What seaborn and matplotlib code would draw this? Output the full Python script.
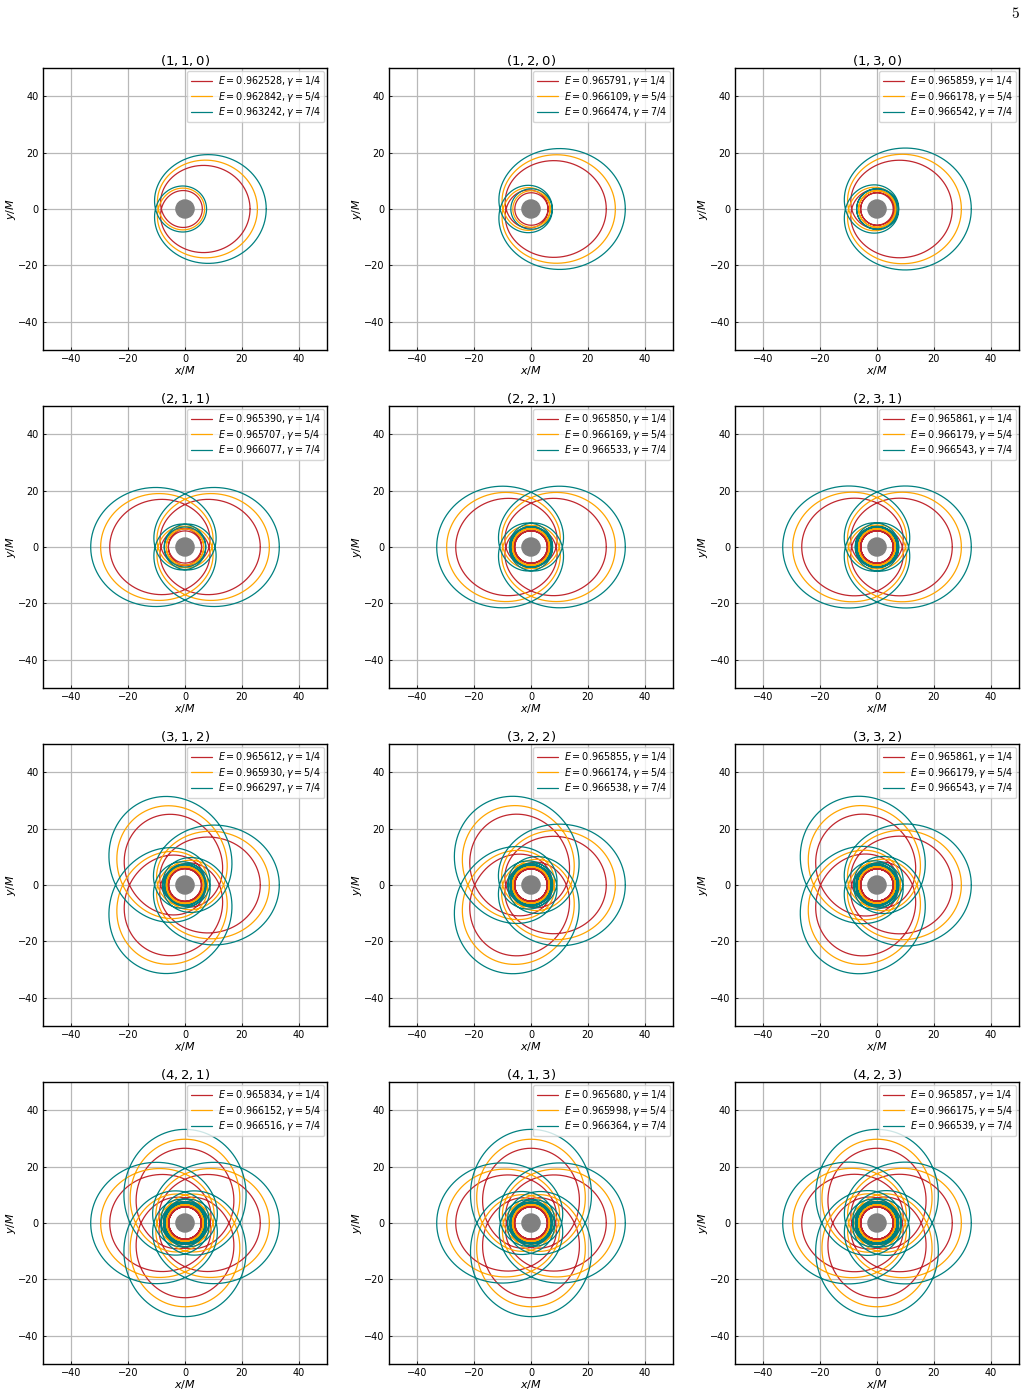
import numpy as np
import matplotlib
matplotlib.use("Agg")
import matplotlib.pyplot as plt
import seaborn as sns

# --- DATA ---
orbit_types = [(1, 1, 0), (1, 2, 0), (1, 3, 0),
               (2, 1, 1), (2, 2, 1), (2, 3, 1),
               (3, 1, 2), (3, 2, 2), (3, 3, 2),
               (4, 2, 1), (4, 1, 3), (4, 2, 3)]
gamma_labels = ["1/4", "5/4", "7/4"]
energies = [
    ["0.962528", "0.962842", "0.963242"],
    ["0.965791", "0.966109", "0.966474"],
    ["0.965859", "0.966178", "0.966542"],
    ["0.965390", "0.965707", "0.966077"],
    ["0.965850", "0.966169", "0.966533"],
    ["0.965861", "0.966179", "0.966543"],
    ["0.965612", "0.965930", "0.966297"],
    ["0.965855", "0.966174", "0.966538"],
    ["0.965861", "0.966179", "0.966543"],
    ["0.965834", "0.966152", "0.966516"],
    ["0.965680", "0.965998", "0.966364"],
    ["0.965857", "0.966175", "0.966539"],
]
# apoapsis / periapsis distances (in M)
apoapsis = [[22.9, 25.5, 28.6]] + [[26.5, 29.7, 33.2]] * 11
periapsis = [[6.1, 6.9, 7.6]] + [[5.7, 6.4, 7.1]] * 11
core_radius = 3.2

colors = ["#c0262d", "orange", "teal"]


# --- GEODESIC HELPERS (Schwarzschild-like precession) ---
def agm(a, b):
    for _ in range(60):
        a, b = 0.5 * (a + b), np.sqrt(a * b)
    return a


def precession(p, e):
    k2 = 4 * e / (p - 6 + 2 * e)
    K = np.pi / (2 * agm(1.0, np.sqrt(max(1 - k2, 0.0))))
    return 4 * np.sqrt(p / (p - 6 + 2 * e)) * K


def orbit(z, w, v, r_a, r_p, n=4000):
    e = (r_a - r_p) / (r_a + r_p)
    P = 2 * r_a * r_p / (r_a + r_p)
    target = 2 * np.pi * (1 + w + v / z)
    lo, hi = 1e-3, P / (6 + 2 * e)
    for _ in range(90):
        m = 0.5 * (lo + hi)
        if precession(P / m, e) < target:
            lo = m
        else:
            hi = m
    p = P / m
    chi = np.linspace(np.pi, np.pi + 2 * np.pi * z, n * z + 1)
    mid = 0.5 * (chi[1:] + chi[:-1])
    dphi = np.sqrt(p / (p - 6 - 2 * e * np.cos(mid))) * np.diff(chi)
    phi = np.concatenate([[0.0], np.cumsum(dphi)])
    phi *= target * z / phi[-1]
    r = P / (1 + e * np.cos(chi))
    return r * np.cos(phi), r * np.sin(phi)


# --- FIGURE ---
sns.set_style("whitegrid", {"axes.edgecolor": "black", "grid.color": "#b8b8b8",
                            "xtick.direction": "in", "ytick.direction": "in",
                            "text.color": "black", "axes.labelcolor": "black",
                            "xtick.color": "black", "ytick.color": "black"})
plt.rcParams["font.family"] = ["DejaVu Sans"]

W, H = 1026, 1394
fig = plt.figure(figsize=(W / 100, H / 100), dpi=100)

col_left = [43, 389, 735]
row_top = [68, 406, 744, 1082]
aw, ah = 284, 282

for i, (z, w, v) in enumerate(orbit_types):
    r, c = divmod(i, 3)
    ax = fig.add_axes([col_left[c] / W, 1 - (row_top[r] + ah) / H, aw / W, ah / H])
    for j in range(3):
        x, y = orbit(z, w, v, apoapsis[i][j], periapsis[i][j])
        label = rf"$E={energies[i][j]}, \gamma={gamma_labels[j]}$"
        sns.lineplot(x=x, y=y, sort=False, estimator=None, color=colors[j],
                     lw=0.9, label=label, ax=ax)
    ax.add_patch(plt.Circle((0, 0), core_radius, color="gray", zorder=3))
    ax.set_xlim(-50, 50)
    ax.set_ylim(-50, 50)
    ax.set_xticks([-40, -20, 0, 20, 40])
    ax.set_yticks([-40, -20, 0, 20, 40])
    ax.tick_params(labelsize=7, length=2.5, width=0.6, left=True, bottom=True, pad=3)
    ax.grid(True, lw=0.9)
    for s in ax.spines.values():
        s.set_linewidth(1.0)
        s.set_color("black")
    ax.set_title(rf"$({z},{w},{v})$", fontsize=9.5, pad=2)
    ax.set_xlabel(r"$x/M$", fontsize=8, labelpad=0)
    ax.set_ylabel(r"$y/M$", fontsize=8, labelpad=0)
    ax.legend(loc="upper right", fontsize=6.9, handlelength=2.2,
              labelspacing=0.15, borderpad=0.35, handletextpad=0.6,
              borderaxespad=0.3, framealpha=0.8)

fig.text(1015 / W, 1 - 14 / H, "5", fontfamily="cmr10", fontsize=11,
         ha="center", va="center")

fig.savefig("out.png", dpi=100)
